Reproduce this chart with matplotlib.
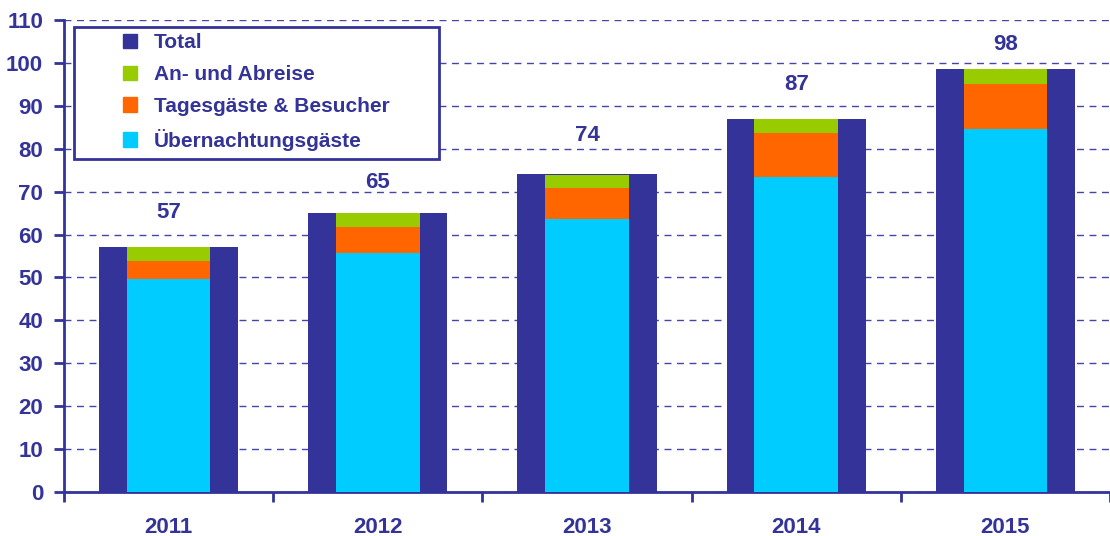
import matplotlib
matplotlib.use("Agg")
import matplotlib.pyplot as plt
import numpy as np
from matplotlib.patches import Patch, Rectangle

years = ["2011", "2012", "2013", "2014", "2015"]
total = [57, 65, 74, 87, 98.6]
total_labels = ["57", "65", "74", "87", "98"]
uebernachtung = [49.6, 55.7, 63.6, 73.4, 84.6]
tagesgaeste = [4.2, 6.1, 7.2, 10.3, 10.5]
anreise = [3.2, 3.2, 3.1, 3.3, 3.5]
label_y = [65.2, 72.2, 83.1, 95.0, 104.4]

C_TOTAL = "#333399"
C_GREEN = "#99cc00"
C_ORANGE = "#ff6600"
C_CYAN = "#00ccff"
TXT = "#333399"
FS = 16
FS_LEG = 15

plt.rcParams['font.family'] = ['Liberation Sans', 'DejaVu Sans']
plt.rcParams['font.weight'] = 'bold'

W, H = 1110, 536
L, B, T = 64, 492, 20
fig = plt.figure(figsize=(W/100, H/100), dpi=100)
ax = fig.add_axes([L/W, 1-B/H, 1-L/W, (B-T)/H])
AW, AH = W - L, B - T

x = np.arange(len(years))
ax.bar(x, total, width=0.665, color=C_TOTAL, zorder=2)
ax.bar(x, uebernachtung, width=0.40, color=C_CYAN, zorder=3)
ax.bar(x, tagesgaeste, width=0.40, bottom=uebernachtung, color=C_ORANGE, zorder=3)
bot2 = np.array(uebernachtung) + np.array(tagesgaeste)
ax.bar(x, anreise, width=0.40, bottom=bot2, color=C_GREEN, zorder=3)

for xi, yl, t in zip(x, label_y, total_labels):
    ax.text(xi, yl, t, ha='center', va='center', color=TXT, fontsize=FS, fontweight='bold')

ax.set_ylim(0, 110)
ax.set_xlim(-0.5, 4.5 - 9/211)
ax.set_yticks(np.arange(0, 111, 10))
ax.yaxis.grid(True, linestyle=(0, (5, 4)), color="#4444aa", linewidth=1.0, zorder=0)
ax.set_axisbelow(True)

ax.set_xticks(np.arange(-0.5, 4.6, 1.0))
ax.set_xticklabels([])
ax.set_xticks(x, minor=True)
ax.set_xticklabels(years, minor=True)
ax.tick_params(axis='x', which='major', direction='out', length=7, width=2, color=C_TOTAL)
ax.tick_params(axis='x', which='minor', length=0, pad=18, labelsize=FS, labelcolor=TXT)
ax.tick_params(axis='y', direction='out', length=7, width=2, color=C_TOTAL, labelsize=FS, labelcolor=TXT, pad=8)
for lab in ax.get_xticklabels(minor=True) + ax.get_yticklabels():
    lab.set_fontweight('bold')

for s in ['top', 'right']:
    ax.spines[s].set_visible(False)
for s in ['left', 'bottom']:
    ax.spines[s].set_color(C_TOTAL)
    ax.spines[s].set_linewidth(2)

# legend frame
frame = Rectangle(((74-L)/AW, (B-159)/AH), (439-74)/AW, (159-27)/AH,
                  transform=ax.transAxes, facecolor='white', edgecolor=C_TOTAL,
                  linewidth=2, zorder=9, clip_on=False)
ax.add_patch(frame)

handles = [Patch(color=C_TOTAL, label="Total"),
           Patch(color=C_GREEN, label="An- und Abreise"),
           Patch(color=C_ORANGE, label="Tagesgäste & Besucher"),
           Patch(color=C_CYAN, label="Übernachtungsgäste")]
leg = ax.legend(handles=handles, loc='upper left',
                bbox_to_anchor=((123-L)/AW, (B-33)/AH),
                frameon=False, borderaxespad=0, borderpad=0,
                handlelength=0.67, handleheight=0.67, handletextpad=0.8, labelspacing=0.62,
                prop={'size': FS_LEG, 'weight': 'bold'}, labelcolor=TXT)
leg.set_zorder(10)

fig.savefig("out.png", dpi=100)
